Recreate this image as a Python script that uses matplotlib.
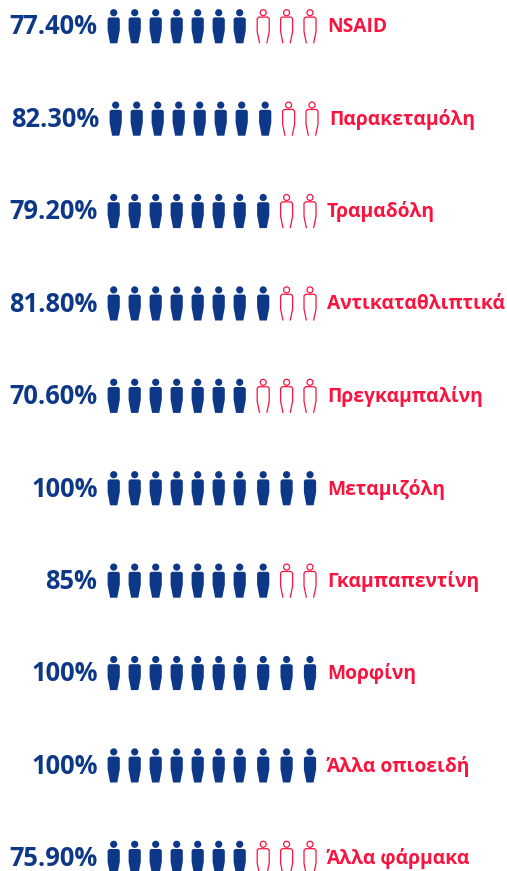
import matplotlib
matplotlib.use("Agg")
import matplotlib.pyplot as plt
from matplotlib.patches import Circle, PathPatch
from matplotlib.path import Path

plt.rcParams["font.family"] = ["Open Sans", "Noto Sans", "DejaVu Sans"]

# Values
drugs = ["NSAID", "Παρακεταμόλη", "Τραμαδόλη", "Αντικαταθλιπτικά", "Πρεγκαμπαλίνη",
         "Μεταμιζόλη", "Γκαμπαπεντίνη", "Μορφίνη", "Άλλα οπιοειδή", "Άλλα φάρμακα"]
pct_labels = ["77.40%", "82.30%", "79.20%", "81.80%", "70.60%",
              "100%", "85%", "100%", "100%", "75.90%"]
filled = [7, 8, 8, 8, 7, 10, 8, 10, 10, 7]

NAVY = "#0d3887"
RED = "#f8143f"
W, H = 507, 871
ROW_STEP = 92.4
ICON_STEP = 21.0
GAP_STEP = 23.4

fig = plt.figure(figsize=(W / 100, H / 100), dpi=100)
ax = fig.add_axes([0, 0, 1, 1])
ax.set_xlim(0, W)
ax.set_ylim(H, 0)
ax.axis("off")


def solid_person(cx, y0):
    # y0 is the centre of the head
    ax.add_patch(Circle((cx, y0), 3.6, fc=NAVY, ec="none"))
    verts = [(cx - 6.1, y0 + 6.2), (cx - 4.6, y0 + 4.7), (cx + 4.6, y0 + 4.7), (cx + 6.1, y0 + 6.2),
             (cx + 6.1, y0 + 17.5), (cx + 3.6, y0 + 30.6), (cx - 3.6, y0 + 30.6),
             (cx - 6.1, y0 + 17.5), (cx - 6.1, y0 + 6.2)]
    codes = [Path.MOVETO] + [Path.LINETO] * 7 + [Path.CLOSEPOLY]
    ax.add_patch(PathPatch(Path(verts, codes), fc=NAVY, ec="none"))


def outline_person(cx, y0):
    ax.add_patch(Circle((cx, y0), 3.0, fc="none", ec=RED, lw=0.9))
    verts = [(cx - 3.6, y0 + 30.6), (cx - 6, y0 + 19), (cx - 6, y0 + 6), (cx - 4.5, y0 + 4.4),
             (cx + 4.5, y0 + 4.4), (cx + 6, y0 + 6), (cx + 6, y0 + 19), (cx + 3.6, y0 + 30.6)]
    ax.add_patch(PathPatch(Path(verts), fc="none", ec=RED, lw=0.9))


for i in range(len(drugs)):
    dx = 2 if i == 1 else 0
    y0 = 12.7 + ROW_STEP * i
    mid = y0 + 14.3
    ax.text(97.5 + dx, mid, pct_labels[i], ha="right", va="center", color=NAVY,
            fontsize=18.4, fontweight="bold")
    ax.text(327 + dx, mid, drugs[i], ha="left", va="center", color=RED,
            fontsize=13.9, fontweight="bold")
    for k in range(10):
        if k < 7:
            cx = 113.7 + dx + ICON_STEP * k
        else:
            cx = 263.2 + dx + GAP_STEP * (k - 7)
        if k < filled[i]:
            solid_person(cx, y0)
        else:
            outline_person(cx, y0)

fig.savefig("out.png", dpi=100, facecolor="white")
